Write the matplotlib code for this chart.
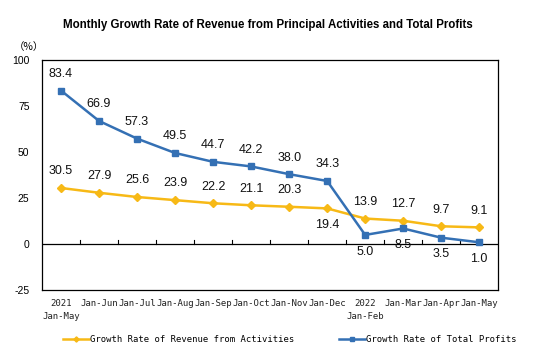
import matplotlib.pyplot as plt

months = ["2021\nJan-May", "Jan-Jun", "Jan-Jul", "Jan-Aug", "Jan-Sep", "Jan-Oct",
          "Jan-Nov", "Jan-Dec", "2022\nJan-Feb", "Jan-Mar", "Jan-Apr", "Jan-May"]
revenue = [30.5, 27.9, 25.6, 23.9, 22.2, 21.1, 20.3, 19.4, 13.9, 12.7, 9.7, 9.1]
profits = [83.4, 66.9, 57.3, 49.5, 44.7, 42.2, 38.0, 34.3, 5.0, 8.5, 3.5, 1.0]
revenue_below = [7]
profits_below = [8, 9, 10, 11]
y_ticks = [100, 75, 50, 25, 0, -25]

YELLOW = "#F7B916"
BLUE = "#3470B4"
MONO = "DejaVu Sans Mono"
SANS = "Liberation Sans"

fig = plt.figure(figsize=(5.55, 3.53), dpi=100)
ax = fig.add_axes([0.0757, 0.178, 0.822, 0.652])

x = list(range(len(months)))
ax.plot(x, revenue, color=YELLOW, lw=1.8, marker="D", ms=4.4,
        label="Growth Rate of Revenue from Activities", zorder=3)
ax.plot(x, profits, color=BLUE, lw=1.8, marker="s", ms=4.2,
        label="Growth Rate of Total Profits", zorder=3)

for series, below in ((revenue, revenue_below), (profits, profits_below)):
    for i, v in enumerate(series):
        off = -12 if i in below else 12
        ax.annotate(f"{v:.1f}", (i, v), xytext=(0, off), textcoords="offset points",
                    ha="center", va="center", fontsize=9, family=SANS, color="#111111")

ax.set_xlim(-0.5, len(months) - 0.5)
ax.set_ylim(-25, 100)
ax.set_yticks(y_ticks)
ax.set_yticklabels([str(t) for t in y_ticks], family=SANS, fontsize=7.5)
ax.tick_params(axis="y", length=0, pad=9)

for s in ax.spines.values():
    s.set_linewidth(0.9)
    s.set_color("black")

# category labels below the frame
ax.set_xticks(x)
ax.set_xticklabels([])
ax.tick_params(axis="x", length=0)
for i, lab in enumerate(months):
    ax.text(i, -30, lab, ha="center", va="top", fontsize=6.5, family=MONO,
            color="#222222", linespacing=1.5)

# zero line with upward tick marks between categories
ax.axhline(0, color="black", lw=0.9, zorder=2)
for b in range(1, len(months)):
    ax.plot([b - 0.5, b - 0.5], [0, 2.5], color="black", lw=0.8, zorder=2)

fig.text(0.482, 0.93, "Monthly Growth Rate of Revenue from Principal Activities and Total Profits",
         ha="center", va="center", fontsize=8.3, fontweight="bold", family=SANS)
fig.text(0.024, 0.866, "（%）", ha="left", va="center", fontsize=7.5,
         family=["Noto Sans CJK SC", "DejaVu Sans"])

fig.legend(loc="center", bbox_to_anchor=(0.522, 0.038), ncol=2, frameon=False,
           handlelength=3.0, handletextpad=0.1, columnspacing=5.0, numpoints=1,
           markerscale=0.6, prop={"family": MONO, "size": 6.4})

fig.savefig("out.png", dpi=100)
